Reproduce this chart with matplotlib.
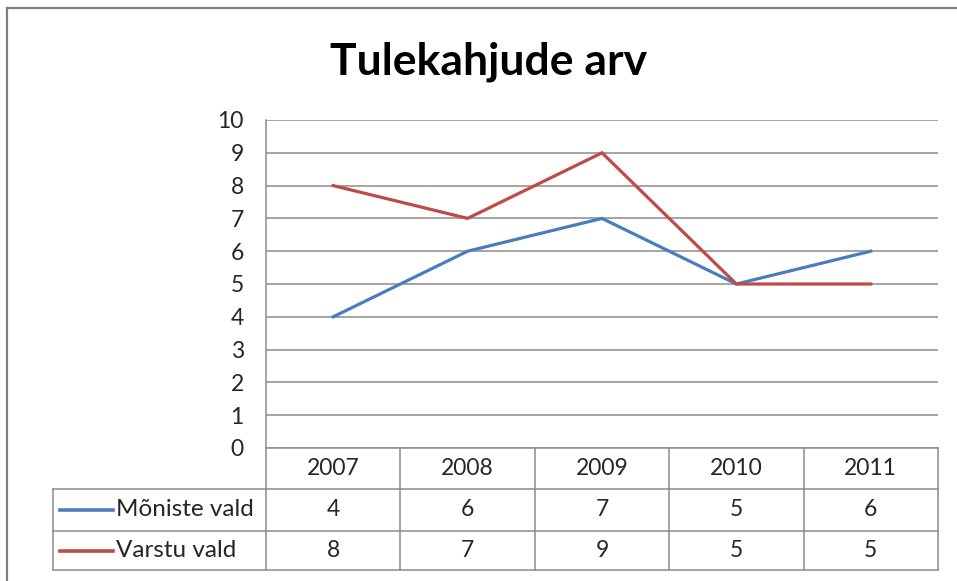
import matplotlib
matplotlib.use("Agg")
import matplotlib.pyplot as plt
from matplotlib.lines import Line2D

# Data
years = ["2007", "2008", "2009", "2010", "2011"]
series_names = ["Mõniste vald", "Varstu vald"]
moniste = [4, 6, 7, 5, 6]
varstu = [8, 7, 9, 5, 5]
series_values = [moniste, varstu]
series_colors = ["#4A7EBB", "#BE4B48"]
y_ticks = list(range(0, 11))
title = "Tulekahjude arv"

plt.rcParams["font.family"] = ["Lato", "DejaVu Sans"]

W, H = 957, 581
fig = plt.figure(figsize=(W / 100, H / 100), dpi=100)
fig.patch.set_facecolor("white")

# Plot area in pixel units
px_left, px_right, px_top, px_bottom = 266, 938, 120, 448
ax = fig.add_axes([px_left / W, 1 - px_bottom / H,
                   (px_right - px_left) / W, (px_bottom - px_top) / H])
ax.set_facecolor("none")

n = len(years)
x = list(range(n))
for vals, col in zip(series_values, series_colors):
    ax.plot(x, vals, color=col, lw=2.3, solid_joinstyle="miter", zorder=3)

txt_size = 16.5
txt_col = "#262626"

ax.set_xlim(-0.5, n - 0.5)
ax.set_ylim(0, 10)
ax.set_yticks(y_ticks)
ax.set_yticklabels([str(t) for t in y_ticks], fontsize=txt_size, color=txt_col)
ax.tick_params(axis="y", length=0, pad=16)
ax.set_xticks([])
ax.yaxis.grid(True, color="#8c8c8c", lw=1.1)
ax.set_axisbelow(True)
for s in ["top", "right", "bottom"]:
    ax.spines[s].set_visible(False)
ax.spines["left"].set_color("#8c8c8c")
ax.spines["left"].set_linewidth(1.1)

# Overlay in pixel coordinates for the frame and the data table
ov = fig.add_axes([0, 0, 1, 1], zorder=5)
ov.set_xlim(0, W)
ov.set_ylim(H, 0)
ov.axis("off")
ov.patch.set_alpha(0)

grey = "#8c8c8c"
# Chart frame
ov.add_line(Line2D([7, 7], [8, H + 5], color="#808080", lw=1.6))
ov.add_line(Line2D([7, W + 5], [8, 8], color="#808080", lw=1.6))

ov.text(489, 62, title, fontsize=32, fontweight="bold",
        ha="center", va="center", color="black")

# Data table
col_w = (px_right - px_left) / n
row_edges = [448, 489, 531, 570]
label_left = 53
# horizontal rules
ov.add_line(Line2D([px_left, px_right], [row_edges[0]] * 2, color=grey, lw=1.1))
for yy in row_edges[1:]:
    ov.add_line(Line2D([label_left, px_right], [yy, yy], color=grey, lw=1.1))
# vertical rules
for i in range(n + 1):
    xx = px_left + i * col_w
    ov.add_line(Line2D([xx, xx], [row_edges[0], row_edges[-1]], color=grey, lw=1.1))
ov.add_line(Line2D([label_left, label_left], [row_edges[1], row_edges[-1]], color=grey, lw=1.1))

for i, yr in enumerate(years):
    ov.text(px_left + (i + 0.5) * col_w, (row_edges[0] + row_edges[1]) / 2, yr,
            fontsize=txt_size, ha="center", va="center", color=txt_col)

for r, (name, vals, col) in enumerate(zip(series_names, series_values, series_colors)):
    yc = (row_edges[r + 1] + row_edges[r + 2]) / 2
    ov.add_line(Line2D([60, 113], [yc, yc], color=col, lw=2.6))
    ov.text(116, yc, name, fontsize=17.5, ha="left", va="center", color=txt_col)
    for i, v in enumerate(vals):
        ov.text(px_left + (i + 0.5) * col_w, yc, str(v),
                fontsize=txt_size, ha="center", va="center", color=txt_col)

fig.savefig("out.png", dpi=100, facecolor="white")
